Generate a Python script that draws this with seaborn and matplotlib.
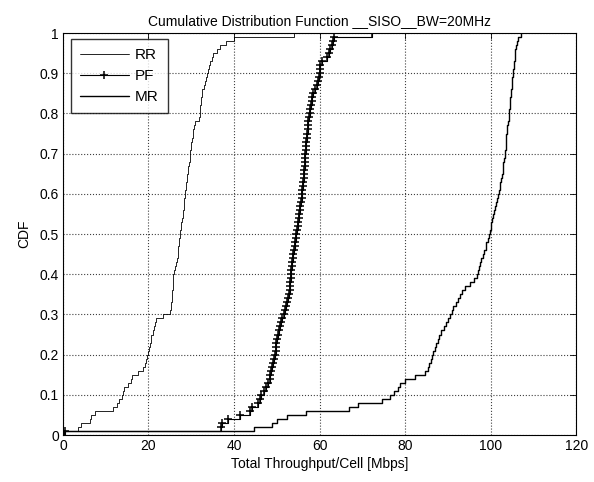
import numpy as np
import pandas as pd
import seaborn as sns
import matplotlib
matplotlib.use("Agg")
import matplotlib.pyplot as plt

# sorted per-cell throughput samples [Mbps]
rr_vals = [0.3, 3.6, 4.2, 6.3, 6.6, 7.5, 11.8, 12.6, 13.0, 13.7,
           14.0, 14.3, 15.3, 15.8, 16.2, 17.6, 18.6, 19.2, 19.5, 19.7,
           20.0, 20.2, 20.4, 20.5, 20.7, 21.0, 21.2, 21.5, 21.7, 23.4,
           25.0, 25.2, 25.3, 25.4, 25.5, 25.6, 25.65, 25.7, 25.75, 25.8,
           26.0, 26.2, 26.4, 26.6, 26.8, 26.9, 27.0, 27.1, 27.2, 27.3,
           27.4, 27.5, 27.6, 27.8, 28.0, 28.1, 28.2, 28.3, 28.4, 28.5,
           28.6, 28.7, 28.8, 28.95, 29.1, 29.2, 29.35, 29.45, 29.6, 29.7,
           29.8, 29.9, 30.0, 30.2, 30.3, 30.5, 30.7, 30.9, 31.9, 31.95,
           32.0, 32.1, 32.2, 32.3, 32.4, 32.6, 32.9, 33.2, 33.4, 33.6,
           33.9, 34.1, 34.3, 34.8, 35.1, 35.9, 36.7, 38.1, 39.9, 54.0]

pf_vals = [0.5, 36.9, 37.2, 38.6, 41.5, 43.8, 44.2, 45.7, 46.0, 46.2,
           47.0, 47.4, 48.0, 48.3, 48.5, 48.7, 48.9, 49.1, 49.3, 49.5,
           49.7, 49.8, 49.9, 50.0, 50.2, 50.4, 50.7, 51.0, 51.3, 51.6,
           51.9, 52.2, 52.5, 52.7, 52.9, 53.0, 53.1, 53.2, 53.25, 53.3,
           53.4, 53.5, 53.6, 53.75, 53.9, 54.05, 54.2, 54.3, 54.45, 54.6,
           54.75, 54.9, 55.0, 55.15, 55.3, 55.4, 55.5, 55.65, 55.8, 55.9,
           56.0, 56.1, 56.15, 56.25, 56.3, 56.4, 56.5, 56.55, 56.6, 56.7,
           56.8, 56.85, 56.9, 57.0, 57.1, 57.2, 57.3, 57.4, 57.55, 57.7,
           57.85, 58.0, 58.15, 58.3, 58.5, 58.9, 59.3, 59.6, 59.8, 60.0,
           60.1, 60.2, 60.6, 61.8, 62.1, 62.4, 62.9, 63.1, 63.3, 72.3]

mr_vals = [0.3, 44.6, 48.8, 50.0, 52.5, 56.9, 66.8, 69.1, 74.6, 76.5,
           77.5, 78.3, 78.8, 80.0, 82.3, 84.6, 85.3, 85.6, 86.0, 86.3,
           86.6, 87.0, 87.3, 87.6, 88.0, 88.5, 89.0, 89.5, 90.1, 90.6,
           91.0, 91.2, 91.8, 92.4, 92.8, 93.2, 94.0, 95.1, 96.0, 96.9,
           97.1, 97.3, 97.5, 97.8, 98.2, 98.5, 98.8, 99.0, 99.3, 99.5,
           99.8, 100.0, 100.2, 100.3, 100.5, 100.8, 101.0, 101.3, 101.5, 101.7,
           101.9, 102.1, 102.3, 102.5, 102.6, 102.8, 102.9, 103.0, 103.2, 103.3,
           103.4, 103.5, 103.55, 103.6, 103.7, 103.8, 103.9, 104.0, 104.2, 104.3,
           104.4, 104.5, 104.55, 104.6, 104.7, 104.8, 104.9, 105.0, 105.1, 105.2,
           105.3, 105.4, 105.5, 105.6, 105.7, 105.8, 106.0, 106.2, 106.5, 107.0]

x_ticks = [0, 20, 40, 60, 80, 100, 120]
y_ticks = [0, 0.1, 0.2, 0.3, 0.4, 0.5, 0.6, 0.7, 0.8, 0.9, 1.0]
y_tick_labels = ["0", "0.1", "0.2", "0.3", "0.4", "0.5", "0.6", "0.7", "0.8", "0.9", "1"]

sns.set_style("white")
plt.rcParams["font.family"] = ["Liberation Sans", "DejaVu Sans"]
plt.rcParams["font.size"] = 10
plt.rcParams["text.color"] = "k"
plt.rcParams["axes.labelcolor"] = "k"

fig, ax = plt.subplots(figsize=(5.94, 4.82), dpi=100)
fig.subplots_adjust(left=0.106, right=0.970, top=0.9315, bottom=0.0975)

sns.ecdfplot(x=rr_vals, ax=ax, color="k", linewidth=0.6, label="RR")
sns.ecdfplot(x=pf_vals, ax=ax, color="k", linewidth=0.8, marker="+",
             markersize=6, markeredgewidth=1.1, label="PF")
sns.ecdfplot(x=mr_vals, ax=ax, color="k", linewidth=1.0, label="MR")

ax.set_xlim(0, 120)
ax.set_ylim(0, 1)
ax.set_xticks(x_ticks)
ax.set_yticks(y_ticks)
ax.set_yticklabels(y_tick_labels)
ax.grid(True, linestyle=":", color="0.25", linewidth=0.8)
ax.tick_params(direction="in", length=4, width=0.6, top=True, right=True,
               colors="k", labelcolor="k", labelsize=10, pad=3)
for sp in ax.spines.values():
    sp.set_visible(True)
    sp.set_color("k")
    sp.set_linewidth(0.8)

ax.set_title("Cumulative Distribution Function __SISO__BW=20MHz", fontsize=10,
             pad=6, color="k")
ax.set_xlabel("Total Throughput/Cell [Mbps]", fontsize=10, labelpad=3, color="k")
ax.set_ylabel("CDF", fontsize=10, labelpad=6, color="k")

leg = ax.legend(loc="upper left", bbox_to_anchor=(0.015, 0.985), fontsize=11,
                frameon=True, fancybox=False, shadow=False, handlelength=3.2,
                borderpad=0.6, labelspacing=0.45, handletextpad=0.4,
                borderaxespad=0)
leg.get_frame().set_edgecolor("k")
leg.get_frame().set_linewidth(1.0)
for t in leg.get_texts():
    t.set_color("k")

fig.savefig("out.png", dpi=100)
